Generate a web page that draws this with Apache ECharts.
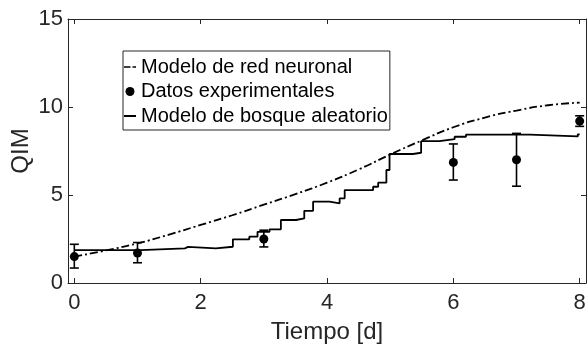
<!DOCTYPE html>
<html><head><meta charset="utf-8">
<script src="https://cdn.jsdelivr.net/npm/echarts@6/dist/echarts.min.js"></script>
<style>html,body{margin:0;padding:0;background:#fff}#c{width:587px;height:344px}</style>
</head><body><div id="c"></div>
<script>
// ---- data ----
const xTicks = [0, 2, 4, 6, 8];
const seriesNames = ['Modelo de red neuronal', 'Datos experimentales', 'Modelo de bosque aleatorio'];
const nnT = [0, 0.5, 1, 1.5, 2, 2.5, 3, 3.5, 4, 4.5, 5, 5.5, 6, 6.5, 7, 7.5, 8];
const nnV = [1.5, 1.85, 2.25, 2.75, 3.3, 3.85, 4.45, 5.05, 5.7, 6.45, 7.3, 8.1, 8.85, 9.4, 9.8, 10.1, 10.25];
const rfT = [0, 1.05, 1.75, 1.8, 2.24, 2.51, 2.77, 2.9, 3.09, 3.27, 3.51, 3.64, 3.78, 4.04, 4.2, 4.28, 4.73, 4.81, 4.94, 4.99, 5.36, 5.49, 5.78, 6.02, 6.2, 7.21, 7.97, 8.0];
const rfV = [1.87, 1.97, 2.05, 1.97, 2.06, 2.48, 2.63, 2.91, 3.05, 3.58, 3.67, 4.1, 4.62, 4.53, 4.81, 5.28, 5.47, 5.7, 6.42, 7.33, 7.4, 8.06, 8.17, 8.31, 8.43, 8.33, 8.45, 8.45];
const expT = [0, 1, 3, 6, 7, 8];
const expV = [1.5, 1.7, 2.5, 6.85, 7.0, 9.2];
const expLow = [0.85, 1.15, 2.05, 5.85, 5.5, 8.9];
const expHigh = [2.2, 2.3, 3.0, 7.9, 8.5, 9.5];

const FF = '"Liberation Sans", Arial, Helvetica, sans-serif';
const AX = '#262626';
const chart = echarts.init(document.getElementById('c'), null, {renderer: 'canvas'});

const axisCommon = {
  axisLine: {show: true, onZero: false, lineStyle: {color: AX, width: 1}},
  splitLine: {show: false}
};
// legend icons (bbox padded with tiny corner segments so the stroke keeps its thickness)
const ICON_DASHDOT = 'path://M0,0L0.01,0M0,9L0.01,9M12,0L11.99,0M0,3.7L6.5,3.7L6.5,5.3L0,5.3ZM8.5,3.7L12,3.7L12,5.3L8.5,5.3Z';
const ICON_SOLID = 'path://M0,0L0.01,0M0,9L0.01,9M12,0L11.99,0M0,3.6L12,3.6L12,5.4L0,5.4Z';

chart.setOption({
  animation: false,
  backgroundColor: '#fff',
  grid: {left: 68, right: 1, top: 19, bottom: 61, containLabel: false, outerBoundsMode: 'none'},
  xAxis: [
    Object.assign({
      type: 'value', min: -0.1, max: 8.1, position: 'bottom',
      axisTick: {show: true, inside: true, length: 5, customValues: xTicks, lineStyle: {color: AX}},
      axisLabel: {customValues: xTicks, fontSize: 22, color: AX, margin: 9, fontFamily: FF},
      name: 'Tiempo [d]', nameLocation: 'middle', nameGap: 37, nameMoveOverlap: false,
      nameTextStyle: {fontSize: 24, color: AX, fontFamily: FF}
    }, axisCommon),
    Object.assign({
      type: 'value', min: -0.1, max: 8.1, position: 'top',
      axisTick: {show: true, inside: true, length: 5, customValues: xTicks, lineStyle: {color: AX}},
      axisLabel: {show: false}
    }, axisCommon)
  ],
  yAxis: [
    Object.assign({
      type: 'value', min: 0, max: 15, interval: 5, position: 'left',
      axisTick: {show: true, inside: true, length: 5, lineStyle: {color: AX}},
      axisLabel: {fontSize: 22, color: AX, margin: 5, fontFamily: FF},
      name: 'QIM', nameLocation: 'middle', nameGap: 35, nameMoveOverlap: false,
      nameTextStyle: {fontSize: 24, color: AX, fontFamily: FF}
    }, axisCommon),
    Object.assign({
      type: 'value', min: 0, max: 15, interval: 5, position: 'right',
      axisTick: {show: true, inside: true, length: 5, lineStyle: {color: AX}},
      axisLabel: {show: false}
    }, axisCommon)
  ],
  legend: {
    left: 123, top: 51, orient: 'vertical',
    itemWidth: 12, itemHeight: 9, itemGap: 4.5,
    padding: [6, 2, 4, 1],
    backgroundColor: '#fff', borderColor: AX, borderWidth: 1, borderRadius: 0,
    textStyle: {fontSize: 20, lineHeight: 20, color: '#000', fontFamily: FF},
    data: [
      {name: seriesNames[0], icon: ICON_DASHDOT, itemStyle: {color: '#000', borderWidth: 0, opacity: 1}},
      {name: seriesNames[1], icon: 'circle', itemStyle: {color: '#000', borderWidth: 0, opacity: 1}},
      {name: seriesNames[2], icon: ICON_SOLID, itemStyle: {color: '#000', borderWidth: 0, opacity: 1}}
    ]
  },
  series: [
    {
      name: seriesNames[0], type: 'line', smooth: true, symbol: 'none',
      data: nnT.map((t, i) => [t, nnV[i]]),
      lineStyle: {color: '#000', width: 1.8, type: [8, 3, 2, 3]},
      itemStyle: {color: '#000'}, z: 3
    },
    {
      name: seriesNames[1], type: 'scatter', symbol: 'circle', symbolSize: 9,
      data: expT.map((t, i) => [t, expV[i]]),
      itemStyle: {color: '#000', opacity: 1}, z: 5
    },
    {
      name: seriesNames[2], type: 'line', step: 'end', symbol: 'none',
      data: rfT.map((t, i) => [t, rfV[i]]),
      lineStyle: {color: '#000', width: 1.8},
      itemStyle: {color: '#000'}, z: 4
    },
    {
      name: 'errores', type: 'custom', z: 5,
      data: expT.map((t, i) => [t, expLow[i], expHigh[i]]),
      encode: {x: 0, y: [1, 2]},
      renderItem: function (params, api) {
        const x = api.value(0);
        const lo = api.coord([x, api.value(1)]);
        const hi = api.coord([x, api.value(2)]);
        const w = 4.5;
        const st = {stroke: '#000', lineWidth: 1.6};
        return {
          type: 'group',
          children: [
            {type: 'line', shape: {x1: lo[0], y1: lo[1], x2: hi[0], y2: hi[1]}, style: st},
            {type: 'line', shape: {x1: lo[0] - w, y1: lo[1], x2: lo[0] + w, y2: lo[1]}, style: st},
            {type: 'line', shape: {x1: hi[0] - w, y1: hi[1], x2: hi[0] + w, y2: hi[1]}, style: st}
          ]
        };
      }
    }
  ]
});
</script>
</body></html>
